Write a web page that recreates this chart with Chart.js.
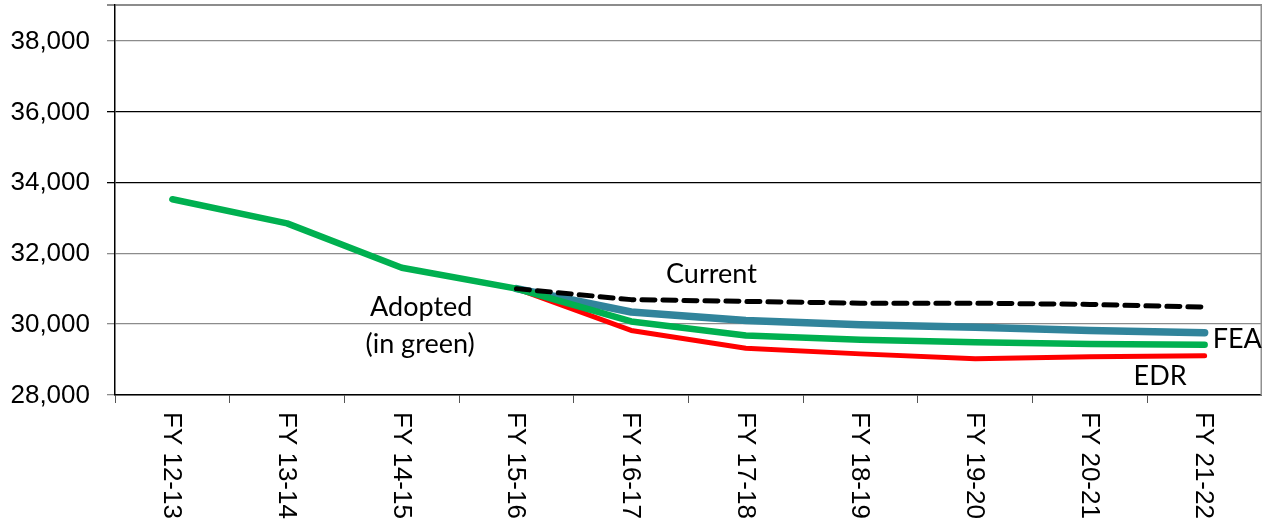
<!DOCTYPE html>
<html>
<head>
<meta charset="utf-8">
<script src="https://cdn.jsdelivr.net/npm/chart.js@4"></script>
<style>
html,body{margin:0;padding:0;background:#fff;}
#wrap{width:1262px;height:527px;}
</style>
</head>
<body>
<div id="wrap"><canvas id="c" width="1262" height="527"></canvas></div>
<script>
const categories = ["FY 12-13","FY 13-14","FY 14-15","FY 15-16","FY 16-17","FY 17-18","FY 18-19","FY 19-20","FY 20-21","FY 21-22"];
const adopted = [33520, 32840, 31590, 31000, 30075, 29680, 29555, 29490, 29440, 29420];
const fea     = [null, null, null, 31000, 30340, 30100, 29980, 29910, 29820, 29755];
const edr     = [null, null, null, 31000, 29820, 29320, 29160, 29020, 29080, 29105];
const current = [null, null, null, 31000, 30690, 30640, 30590, 30590, 30555, 30480];
const yTicks  = [28000, 30000, 32000, 34000, 36000, 38000];

const annotations = [
  {text: "Current",    xi: 4.7,  y: 31400, align: "center"},
  {text: "Adopted",    xi: 2.17, y: 30480, align: "center"},
  {text: "(in green)", xi: 2.16, y: 29440, align: "center"},
  {text: "FEA",        xi: 9.07, y: 29560, align: "left"},
  {text: "EDR",        xi: 8.38, y: 28540, align: "left"}
];

const extras = {
  id: 'extras',
  afterDraw(chart) {
    const ctx = chart.ctx, xs = chart.scales.x, ys = chart.scales.y, a = chart.chartArea;
    ctx.save();
    // right border
    ctx.strokeStyle = '#909090';
    ctx.lineWidth = 1.5;
    ctx.beginPath();
    ctx.moveTo(a.right - 0.75, a.top);
    ctx.lineTo(a.right - 0.75, a.bottom);
    ctx.stroke();
    ctx.fillStyle = '#000';
    ctx.font = '26px "Liberation Sans", Arial, sans-serif';
    // y labels
    ctx.textAlign = 'right';
    ctx.textBaseline = 'middle';
    yTicks.forEach(v => {
      ctx.fillText(v.toLocaleString('en-US'), a.left - 25, ys.getPixelForValue(v) + 1);
    });
    // x labels rotated clockwise
    ctx.textAlign = 'left';
    categories.forEach((c, i) => {
      const x = xs.getPixelForValue(i);
      ctx.save();
      ctx.translate(x - 1, a.bottom + 17);
      ctx.rotate(Math.PI / 2);
      ctx.fillText(c, 0, 0);
      ctx.restore();
    });
    // annotations
    ctx.font = '27px Lato, "Open Sans", sans-serif';
    annotations.forEach(t => {
      const x = xs.left + (t.xi + 0.5) * (xs.width / categories.length);
      const y = ys.getPixelForValue(t.y);
      ctx.textAlign = t.align;
      ctx.fillText(t.text, x, y);
    });
    ctx.restore();
  }
};

new Chart(document.getElementById('c'), {
  type: 'line',
  data: {
    labels: categories,
    datasets: [
      {label: 'Current', data: current, borderColor: '#000', borderWidth: 5, borderDash: [13, 8], order: 0},
      {label: 'Adopted', data: adopted, borderColor: '#00B050', borderWidth: 6.5, order: 1},
      {label: 'FEA', data: fea, borderColor: '#31849B', borderWidth: 7.5, order: 2},
      {label: 'EDR', data: edr, borderColor: '#FF0000', borderWidth: 5, order: 3}
    ]
  },
  options: {
    responsive: false,
    animation: false,
    devicePixelRatio: 1,
    layout: {padding: {top: 5, right: 0, left: 0, bottom: 0}},
    elements: {
      point: {radius: 0, hoverRadius: 0},
      line: {tension: 0, borderCapStyle: 'round', borderJoinStyle: 'round', fill: false}
    },
    plugins: {legend: {display: false}, tooltip: {enabled: false}},
    scales: {
      x: {
        type: 'category',
        offset: true,
        grid: {offset: true, drawOnChartArea: false, drawTicks: true, tickLength: 8, color: '#555', lineWidth: 1},
        border: {display: true, color: '#000', width: 1.5},
        ticks: {display: false},
        afterFit(s) { s.height = 132; }
      },
      y: {
        min: 28000, max: 39000,
        afterBuildTicks(s) { s.ticks = yTicks.concat([39000]).map(v => ({value: v})); },
        grid: {
          drawTicks: true, tickLength: 8,
          color(ctx) {
            const v = ctx.tick && ctx.tick.value;
            return (v === 34000 || v === 36000) ? '#000' : '#8c8c8c';
          },
          lineWidth(ctx) { return ctx.tick && ctx.tick.value === 39000 ? 2 : 1.3; }
        },
        border: {display: true, color: '#000', width: 1.5},
        ticks: {display: false},
        afterFit(s) { s.width = 115; }
      }
    }
  },
  plugins: [extras]
});
</script>
</body>
</html>
